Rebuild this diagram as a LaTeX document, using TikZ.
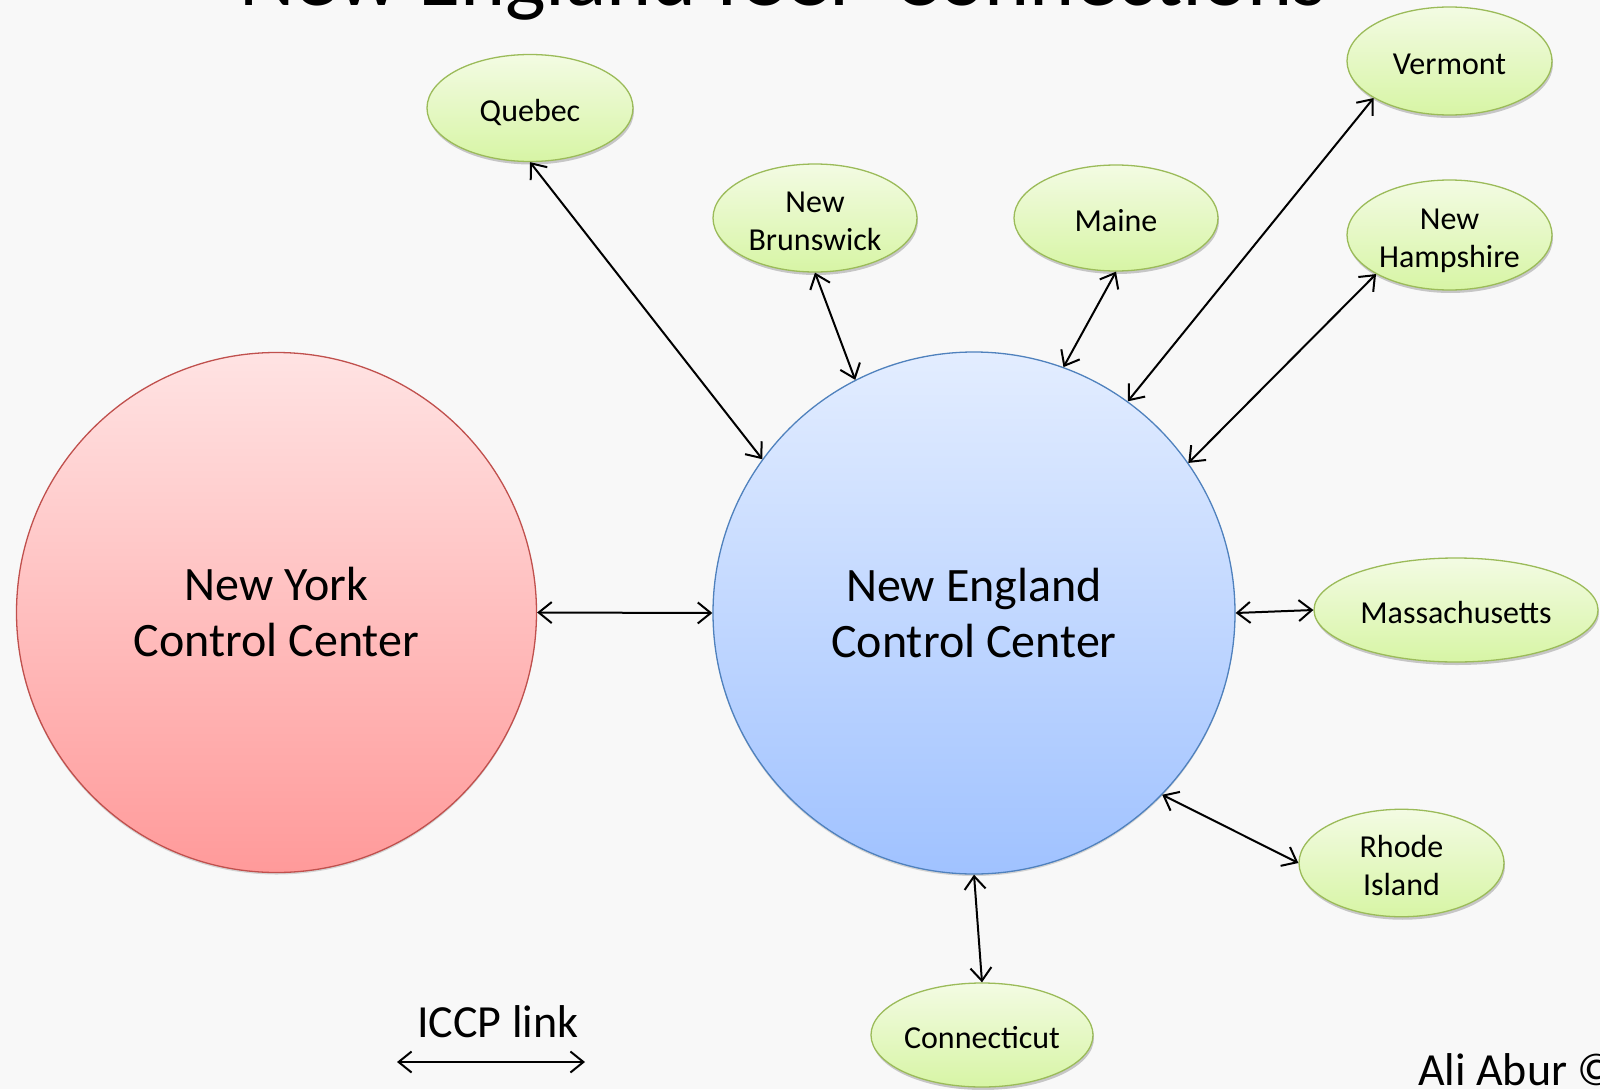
\documentclass[tikz,border=0pt]{standalone}
\usepackage{fontspec}
\setmainfont{Carlito}
\usetikzlibrary{shapes.geometric,arrows.meta,shadows}
\definecolor{bg}{HTML}{F8F8F8}
\definecolor{elltop}{HTML}{F3FBE3}
\definecolor{ellbot}{HTML}{D7F5A5}
\definecolor{ellborder}{HTML}{9BBB59}
\definecolor{nytop}{HTML}{FFE3E3}
\definecolor{nybot}{HTML}{FF9A9A}
\definecolor{nyborder}{HTML}{C0504D}
\definecolor{netop}{HTML}{E3EDFF}
\definecolor{nebot}{HTML}{A0C2FF}
\definecolor{neborder}{HTML}{4F81BD}
\newcommand\elab[1]{\raisebox{-6pt}[\height][\depth]{\begin{tabular}{@{}c@{}}#1\end{tabular}}}
\begin{document}
\begin{tikzpicture}[x=1pt,y=-1pt,
  state/.style={ellipse, draw=ellborder, line width=1.3pt, top color=elltop, bottom color=ellbot,
    inner sep=0pt, font=\fontsize{32}{38}\selectfont,
    drop shadow={shadow xshift=1pt, shadow yshift=-3pt, opacity=0.2, fill=black}},
  ccbox/.style={circle, inner sep=0pt, align=center, line width=1.3pt,
    font=\fontsize{48}{56}\selectfont,
    drop shadow={shadow xshift=0pt, shadow yshift=-2pt, opacity=0.15, fill=black}},
  link/.style={{Straight Barb[length=13pt,width=21pt]}-{Straight Barb[length=13pt,width=21pt]}, line width=2pt, black},
  lbl/.style={anchor=base west, inner sep=0pt, font=\fontsize{46}{55}\selectfont}
]
\fill[bg] (0,0) rectangle (1600,1089);
\useasboundingbox (0,0) rectangle (1600,1089);
\begin{scope}
\clip (0,0) rectangle (1600,1089);
\node[anchor=base west, inner sep=0pt, font=\fontsize{86}{100}\selectfont] (title) at (239,6) {New England ICCP Connections};
\node[lbl] (ali) at (1418,1085) {Ali Abur ©};
\end{scope}

\node[ccbox, draw=nyborder, top color=nytop, bottom color=nybot, minimum size=520pt] (ny) at (276.5,612.5) {New York\\Control Center};
\node[ccbox, draw=neborder, top color=netop, bottom color=nebot, minimum size=522pt] (ne) at (974,613) {New England\\Control Center};

\node[state, minimum width=206pt, minimum height=107pt] (q) at (530,108) {\elab{Quebec}};
\node[state, minimum width=204pt, minimum height=108pt] (nb) at (815,218) {\elab{New\\Brunswick}};
\node[state, minimum width=204pt, minimum height=106pt] (mn) at (1116,218) {\elab{Maine}};
\node[state, minimum width=205pt, minimum height=108pt] (vt) at (1449.5,61) {\elab{Vermont}};
\node[state, minimum width=205pt, minimum height=110pt] (nh) at (1449.5,235) {\elab{New\\Hampshire}};
\node[state, minimum width=284pt, minimum height=104pt] (ma) at (1456,610) {\elab{Massachusetts}};
\node[state, minimum width=205pt, minimum height=107pt] (ri) at (1401.5,863) {\elab{Rhode\\Island}};
\node[state, minimum width=222pt, minimum height=104pt] (ct) at (982,1035) {\elab{Connecticut}};

\draw[link] (ny.east) -- (ne.west);
\draw[link] (q.south) -- (ne.144.8);
\draw[link] (nb.south) -- (ne.117.5);
\draw[link] (mn.south) -- (ne.70.3);
\draw[link] (vt.206.4) -- (ne.54.6);
\draw[link] (nh.208.8) -- (ne.35);
\draw[link] (ne.east) -- (ma.west);
\draw[link] (ne.-44.7) -- (ri.west);
\draw[link] (ne.south) -- (ct.north);

\node[lbl] (iccp) at (417,1037) {ICCP link};
\coordinate (l1) at (397,1062);
\coordinate (l2) at (585,1062);
\draw[link] (l1) -- (l2);
\end{tikzpicture}
\end{document}
